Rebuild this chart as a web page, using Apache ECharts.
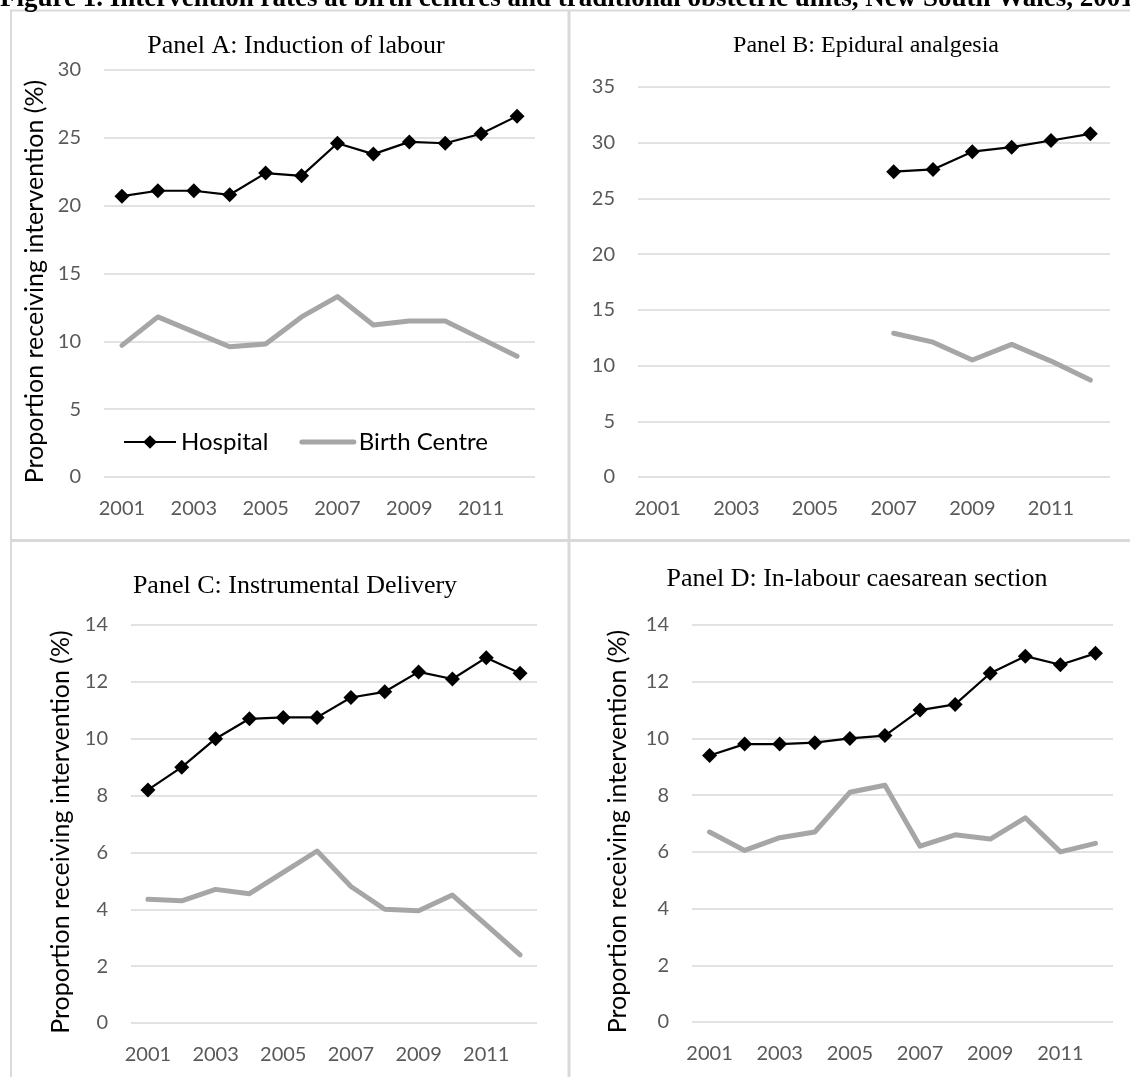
<!DOCTYPE html>
<html>
<head>
<meta charset="utf-8">
<script src="https://cdn.jsdelivr.net/npm/echarts@6/dist/echarts.min.js"></script>
<style>
html,body{margin:0;padding:0;background:#fff;}
#chart{width:1130px;height:1077px;}
</style>
</head>
<body>
<div id="chart"></div>
<script>
// ---- data ----
const years = ['2001','2002','2003','2004','2005','2006','2007','2008','2009','2010','2011','2012'];
const seriesNames = ['Hospital', 'Birth Centre'];
const figureTitle = 'Figure 1. Intervention rates at birth centres and traditional obstetric units, New South Wales, 2001';
const panelTitles = ['Panel A: Induction of labour', 'Panel B: Epidural analgesia', 'Panel C: Instrumental Delivery', 'Panel D: In-labour caesarean section'];
const yAxisTitle = 'Proportion receiving intervention (%)';

const inductionHospital = [20.7, 21.1, 21.1, 20.8, 22.4, 22.2, 24.6, 23.8, 24.7, 24.6, 25.3, 26.6];
const inductionBirthCentre = [9.7, 11.8, 10.7, 9.6, 9.8, 11.8, 13.3, 11.2, 11.5, 11.5, 10.2, 8.9];
const epiduralHospital = [null, null, null, null, null, null, 27.4, 27.6, 29.2, 29.6, 30.2, 30.8];
const epiduralBirthCentre = [null, null, null, null, null, null, 12.9, 12.1, 10.5, 11.9, 10.4, 8.7];
const instrumentalHospital = [8.2, 9.0, 10.0, 10.7, 10.75, 10.75, 11.45, 11.65, 12.35, 12.1, 12.85, 12.3];
const instrumentalBirthCentre = [4.35, 4.3, 4.7, 4.55, 5.3, 6.05, 4.8, 4.0, 3.95, 4.5, 3.45, 2.4];
const caesareanHospital = [9.4, 9.8, 9.8, 9.85, 10.0, 10.1, 11.0, 11.2, 12.3, 12.9, 12.6, 13.0];
const caesareanBirthCentre = [6.7, 6.05, 6.5, 6.7, 8.1, 8.35, 6.2, 6.6, 6.45, 7.2, 6.0, 6.3];

const yMax = [30, 35, 14, 14];
const yInterval = [5, 5, 2, 2];

// ---- styling ----
const GRID_COLOR = '#d9d9d9';
const TICK_COLOR = '#595959';
const SANS = 'Lato';
const SERIF = '"Liberation Serif", "Times New Roman", serif';

const grids = [
  {left: 104, top: 70, width: 431, height: 407},
  {left: 638, top: 87, width: 472, height: 390},
  {left: 131, top: 625, width: 406, height: 398},
  {left: 692, top: 625, width: 421, height: 397}
];

const panelData = [
  [inductionHospital, inductionBirthCentre],
  [epiduralHospital, epiduralBirthCentre],
  [instrumentalHospital, instrumentalBirthCentre],
  [caesareanHospital, caesareanBirthCentre]
];

const xAxes = grids.map((g, i) => ({
  type: 'category',
  gridIndex: i,
  data: years,
  boundaryGap: true,
  axisLine: {show: false},
  axisTick: {show: false},
  axisLabel: {interval: 1, color: TICK_COLOR, fontFamily: SANS, fontSize: 20, margin: 22}
}));

const yNameGap = [57, 0, 58, 62];
const yAxes = grids.map((g, i) => {
  const ax = {
    type: 'value',
    gridIndex: i,
    min: 0,
    max: yMax[i],
    interval: yInterval[i],
    axisLine: {show: false},
    axisTick: {show: false},
    axisLabel: {color: TICK_COLOR, fontFamily: SANS, fontSize: 20, margin: 23},
    splitLine: {lineStyle: {color: GRID_COLOR, width: 1.5}}
  };
  if (i !== 1) {
    ax.name = yAxisTitle;
    ax.nameLocation = 'middle';
    ax.nameRotate = 90;
    ax.nameGap = yNameGap[i];
    ax.nameTextStyle = {color: '#000', fontFamily: SANS, fontSize: 25, padding: [0, 16, 0, 0]};
  }
  return ax;
});

const series = [];
panelData.forEach((pair, i) => {
  series.push({
    name: seriesNames[1], type: 'line', xAxisIndex: i, yAxisIndex: i,
    data: pair[1], symbol: 'none', color: '#a6a6a6',
    lineStyle: {color: '#a6a6a6', width: 5, join: 'round', cap: 'round'},
    z: 2, animation: false
  });
  series.push({
    name: seriesNames[0], type: 'line', xAxisIndex: i, yAxisIndex: i,
    data: pair[0], symbol: 'diamond', symbolSize: 15, color: '#000',
    itemStyle: {color: '#000'},
    lineStyle: {color: '#000', width: 2.2},
    z: 3, animation: false
  });
});

const titleFont = {fontFamily: SERIF, fontWeight: 'normal', color: '#000'};
const titles = [
  {text: figureTitle, left: 0, top: -14, padding: 0, textStyle: {fontFamily: SERIF, fontWeight: 'bold', fontSize: 27, color: '#000'}},
  {text: panelTitles[0], left: 296, top: 33, textAlign: 'center', padding: 0, textStyle: Object.assign({fontSize: 26}, titleFont)},
  {text: panelTitles[1], left: 866, top: 34, textAlign: 'center', padding: 0, textStyle: Object.assign({fontSize: 24}, titleFont)},
  {text: panelTitles[2], left: 295, top: 573, textAlign: 'center', padding: 0, textStyle: Object.assign({fontSize: 26}, titleFont)},
  {text: panelTitles[3], left: 857, top: 566, textAlign: 'center', padding: 0, textStyle: Object.assign({fontSize: 26}, titleFont)}
];

const borderStyle = (w) => ({stroke: GRID_COLOR, lineWidth: w});
const option = {
  animation: false,
  backgroundColor: '#fff',
  title: titles,
  legend: {
    left: 123, top: 430, padding: 0,
    itemWidth: 52, itemHeight: 17, itemGap: 31,
    selectedMode: false,
    textStyle: {fontFamily: SANS, fontSize: 24, color: '#000'},
    data: [
      {name: seriesNames[0]},
      {name: seriesNames[1], lineStyle: {width: 5}, itemStyle: {opacity: 0}}
    ]
  },
  grid: grids,
  xAxis: xAxes,
  yAxis: yAxes,
  series: series,
  graphic: [
    {type: 'line', silent: true, shape: {x1: 10, y1: 10.5, x2: 1130, y2: 10.5}, style: borderStyle(2)},
    {type: 'line', silent: true, shape: {x1: 11, y1: 10, x2: 11, y2: 1077}, style: borderStyle(2)},
    {type: 'line', silent: true, shape: {x1: 569, y1: 10, x2: 569, y2: 1077}, style: borderStyle(3)},
    {type: 'line', silent: true, shape: {x1: 10, y1: 540.5, x2: 1130, y2: 540.5}, style: borderStyle(3)}
  ]
};

const chart = echarts.init(document.getElementById('chart'), null, {renderer: 'canvas'});
chart.setOption(option);
</script>
</body>
</html>
